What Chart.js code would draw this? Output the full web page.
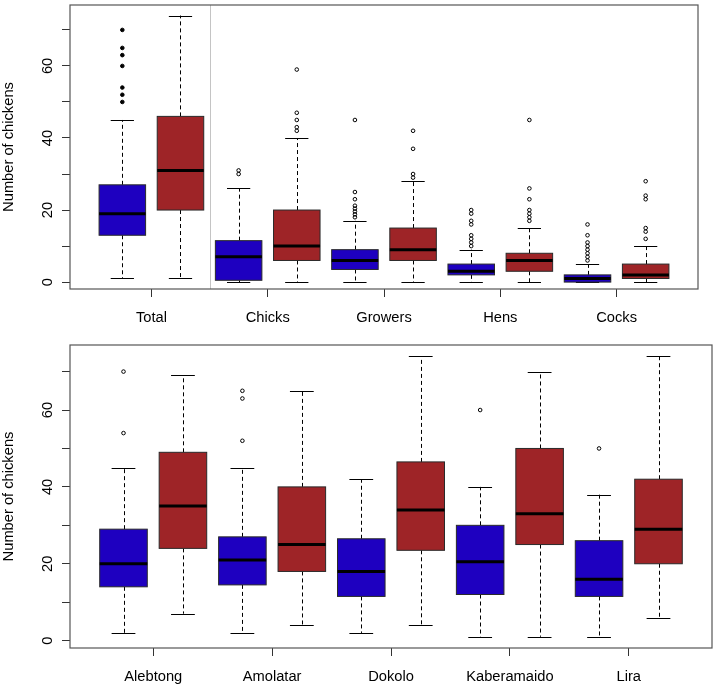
<!DOCTYPE html>
<html><head><meta charset="utf-8">
<script src="https://cdn.jsdelivr.net/npm/chart.js@4/dist/chart.umd.min.js"></script>
<style>
html,body{margin:0;padding:0;background:#fff;width:717px;height:685px;overflow:hidden}
canvas{position:absolute;left:0}
#c1{top:0}
#c2{top:340px}
</style></head><body>
<canvas id="c1" width="717" height="340"></canvas>
<canvas id="c2" width="717" height="345"></canvas>
<script>
// ---- data (five-number summaries: [lower whisker, Q1, median, Q3, upper whisker]) ----
const topCategories = ['Total', 'Chicks', 'Growers', 'Hens', 'Cocks'];
const topBlueStats = [[1, 13, 19, 27, 45], [0, 0.5, 7, 11.5, 26], [0, 3.5, 6, 9, 17], [0, 2, 3, 5, 9], [0, 0, 1, 2, 5]];
const topRedStats = [[1, 20, 31, 46, 74], [0, 6, 10, 20, 40], [0, 6, 9, 15, 28], [0, 3, 6, 8, 15], [0, 1, 2, 5, 10]];
const topBlueOutliers = [[70, 65, 63, 60, 54, 52, 50], [31, 30], [45, 25, 23, 21.2, 20.4, 19.6, 18.8, 18], [20, 19, 17, 16, 13, 12, 11, 10], [16, 13, 11, 10, 9, 8, 7, 6]];
const topRedOutliers = [[], [59, 47, 45, 43, 42], [42, 37, 30, 29], [45, 26, 23, 20, 19, 18, 17], [28, 24, 23, 15, 14, 12]];
const topBlueOutlierFilled = [true, false, false, false, false];

const bottomCategories = ['Alebtong', 'Amolatar', 'Dokolo', 'Kaberamaido', 'Lira'];
const bottomBlueStats = [[2, 14, 20, 29, 45], [2, 14.5, 21, 27, 45], [2, 11.5, 18, 26.5, 42], [1, 12, 20.5, 30, 40], [1, 11.5, 16, 26, 38]];
const bottomRedStats = [[7, 24, 35, 49, 69], [4, 18, 25, 40, 65], [4, 23.5, 34, 46.5, 74], [1, 25, 33, 50, 70], [6, 20, 29, 42, 74]];
const bottomBlueOutliers = [[70, 54], [65, 63, 52], [], [60], [50]];
const bottomRedOutliers = [[], [], [], [], []];

const yTickValues = [0, 10, 20, 30, 40, 50, 60, 70];
const yTickLabels = ['0', '', '20', '', '40', '', '60', ''];
const yTitle = 'Number of chickens';

// ---- styles ----
const BLUE = '#1e00c0';
const RED = '#9e2427';
const FONT = "'Liberation Sans', Arial, Helvetica, sans-serif";
const FS = 14.7;

const boxPlugin = {
  id: 'boxes',
  beforeDatasetsDraw(chart) {
    const cfg = chart.options.plugins.boxes;
    const {ctx, chartArea: ca, scales: {x, y}} = chart;
    ctx.save();
    ctx.beginPath(); ctx.rect(ca.left, ca.top, ca.width, ca.height); ctx.clip();
    if (cfg.divider != null) {
      const px = Math.round(x.getPixelForValue(cfg.divider)) + 0.5;
      ctx.strokeStyle = '#c4c4c4'; ctx.lineWidth = 1;
      ctx.beginPath(); ctx.moveTo(px, ca.top); ctx.lineTo(px, ca.bottom); ctx.stroke();
    }
    const line = (x1, y1, x2, y2) => { ctx.beginPath(); ctx.moveTo(x1, y1); ctx.lineTo(x2, y2); ctx.stroke(); };
    cfg.series.forEach(s => {
      s.stats.forEach((st, i) => {
        const pos = 2 * i + s.offset;
        const [mn, q1, md, q3, mx] = st;
        const xl = x.getPixelForValue(pos - 0.4), xr = x.getPixelForValue(pos + 0.4);
        const xc = Math.round(x.getPixelForValue(pos)) + 0.5;
        const sl = x.getPixelForValue(pos - 0.2), sr = x.getPixelForValue(pos + 0.2);
        const Y = v => y.getPixelForValue(v);
        ctx.strokeStyle = '#000'; ctx.lineWidth = 1;
        ctx.setLineDash([4, 3]);
        line(xc, Y(q3), xc, Y(mx));
        line(xc, Y(q1), xc, Y(mn));
        ctx.setLineDash([]);
        line(sl, Math.round(Y(mx)) + 0.5, sr, Math.round(Y(mx)) + 0.5);
        line(sl, Math.round(Y(mn)) + 0.5, sr, Math.round(Y(mn)) + 0.5);
        ctx.fillStyle = s.color;
        ctx.fillRect(xl, Y(q3), xr - xl, Y(q1) - Y(q3));
        ctx.strokeStyle = '#2a2a2a';
        ctx.strokeRect(xl, Y(q3), xr - xl, Y(q1) - Y(q3));
        ctx.strokeStyle = '#000'; ctx.lineWidth = 3;
        line(xl, Y(md), xr, Y(md));
      });
    });
    ctx.restore();
  },
  afterDraw(chart) {
    const {ctx, chartArea: ca} = chart;
    ctx.save();
    ctx.strokeStyle = '#555'; ctx.lineWidth = 1.2;
    ctx.strokeRect(ca.left, ca.top, ca.width, ca.height);
    ctx.restore();
  }
};

function outlierPoints(outs, offset) {
  return outs.flatMap((vals, i) => vals.map(v => ({x: 2 * i + offset, y: v})));
}
function outlierFill(outs, filled) {
  return outs.flatMap((vals, i) => vals.map(() => (filled && filled[i]) ? '#000' : 'rgba(0,0,0,0)'));
}

function makeChart(id, cats, blueStats, redStats, blueOut, redOut, blueFilled, geo) {
  const tickPositions = cats.map((c, i) => 2 * i + 1.5);
  return new Chart(document.getElementById(id), {
    type: 'scatter',
    data: {
      datasets: [
        {data: outlierPoints(blueOut, 1), pointRadius: 1.8, pointBorderWidth: 1,
         pointBorderColor: '#000', pointBackgroundColor: outlierFill(blueOut, blueFilled)},
        {data: outlierPoints(redOut, 2), pointRadius: 1.8, pointBorderWidth: 1,
         pointBorderColor: '#000', pointBackgroundColor: 'rgba(0,0,0,0)'}
      ]
    },
    options: {
      responsive: false, animation: false, devicePixelRatio: 1,
      layout: {padding: {top: geo.top, right: geo.right, left: 0, bottom: 0}},
      plugins: {
        legend: {display: false}, tooltip: {enabled: false},
        boxes: {divider: geo.divider, series: [
          {stats: blueStats, offset: 1, color: BLUE},
          {stats: redStats, offset: 2, color: RED}
        ]}
      },
      scales: {
        x: {
          type: 'linear', min: 0.1, max: 10.9,
          afterBuildTicks: s => { s.ticks = tickPositions.map(v => ({value: v})); },
          afterFit: s => { s.height = geo.xHeight; s.paddingLeft = 0; s.paddingRight = 0; },
          grid: {display: true, drawOnChartArea: false, drawTicks: true, tickLength: 8, color: '#333', lineWidth: 1},
          border: {display: false},
          ticks: {autoSkip: false, maxRotation: 0, minRotation: 0, padding: 12, color: '#000',
                  font: {family: FONT, size: FS},
                  callback: (v, i) => cats[i]}
        },
        y: {
          type: 'linear', min: geo.ymin, max: geo.ymax,
          afterBuildTicks: s => { s.ticks = yTickValues.map(v => ({value: v})); },
          afterFit: s => { s.width = 70; s.paddingTop = 0; s.paddingBottom = 0; },
          grid: {display: true, drawOnChartArea: false, drawTicks: true, tickLength: 8, color: '#333', lineWidth: 1},
          border: {display: false},
          title: {display: true, text: yTitle, color: '#000', font: {family: FONT, size: FS}, padding: {top: 0, bottom: 0}},
          ticks: {autoSkip: false, minRotation: 90, maxRotation: 90, crossAlign: 'center', padding: 6, color: '#000',
                  font: {family: FONT, size: FS},
                  callback: (v, i) => yTickLabels[i]}
        }
      }
    },
    plugins: [boxPlugin]
  });
}

makeChart('c1', topCategories, topBlueStats, topRedStats, topBlueOutliers, topRedOutliers, topBlueOutlierFilled,
  {top: 2, right: 19, xHeight: 51, ymin: -1.92, ymax: 76.92, divider: 2.5});
makeChart('c2', bottomCategories, bottomBlueStats, bottomRedStats, bottomBlueOutliers, bottomRedOutliers, null,
  {top: 3, right: 1, xHeight: 37, ymin: -1.92, ymax: 76.92, divider: null});
</script>
</body></html>
